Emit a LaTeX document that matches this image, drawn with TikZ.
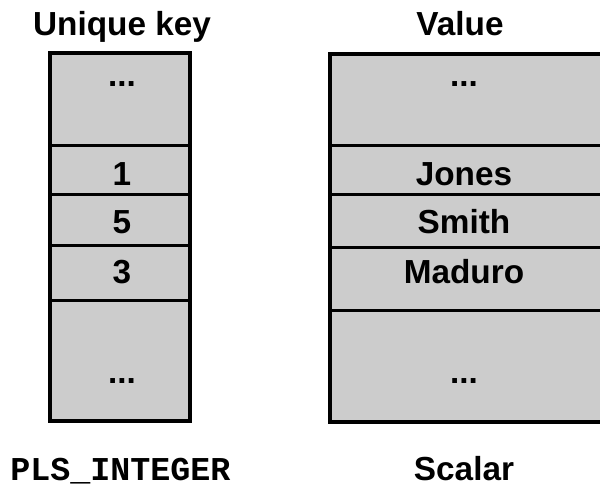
\documentclass[tikz,border=0pt]{standalone}
\usepackage{fontspec}
\setmainfont{Liberation Sans}
\setmonofont{Liberation Mono}

\begin{document}
\begin{tikzpicture}[x = .75pt, y = -.75pt, fill = black!20, text = black, inner sep = 0pt,
  font = \fontsize{25}{30}\selectfont\bfseries,
  cell/.style = {fill, line width = 2.25pt},
  frame/.style = {line width = 3pt}]
\useasboundingbox (0, 0) rectangle (600, 487);
\clip (0, 0) rectangle (600, 487);

% keys
\draw [cell] (50,  53)   rectangle (189.5, 145.5);
\draw [cell] (50, 145.5) rectangle (189.5, 194.5);
\draw [cell] (50, 194.5) rectangle (189.5, 245.5);
\draw [cell] (50, 245.5) rectangle (189.5, 300);
\draw [cell] (50, 300)   rectangle (189.5, 421);
\draw [frame] (50, 53) rectangle (189.5, 421);

\node [anchor = base] (ktop) at (122,  86) {...};
\node [anchor = base] (k1)   at (122, 185) {1};
\node [anchor = base] (k5)   at (122, 233) {5};
\node [anchor = base] (k3)   at (122, 283) {3};
\node [anchor = base] (kbot) at (122, 383) {...};

% values
\draw [cell] (330,  54)   rectangle (603, 145.5);
\draw [cell] (330, 145.5) rectangle (603, 194.5);
\draw [cell] (330, 194.5) rectangle (603, 247.5);
\draw [cell] (330, 247.5) rectangle (603, 310);
\draw [cell] (330, 310)   rectangle (603, 422);
\draw [frame] (330, 54) rectangle (603, 422);

\node [anchor = base] (vtop)   at (464,  86) {...};
\node [anchor = base] (vjones) at (464, 185) {Jones};
\node [anchor = base] (vsmith) at (464, 233) {Smith};
\node [anchor = base] (vmad)   at (464, 283) {Maduro};
\node [anchor = base] (vbot)   at (464, 383) {...};

% titles and types
\node [anchor = base] (ktitle) at (122, 35) {Unique key};
\node [anchor = base] (vtitle) at (460, 35) {Value};
\node [anchor = base west, font = \fontsize{25}{30}\selectfont\ttfamily\bfseries] (ktype) at (10, 480) {PLS\_INTEGER};
\node [anchor = base] (vtype) at (464, 480) {Scalar};
\end{tikzpicture}
\end{document}
